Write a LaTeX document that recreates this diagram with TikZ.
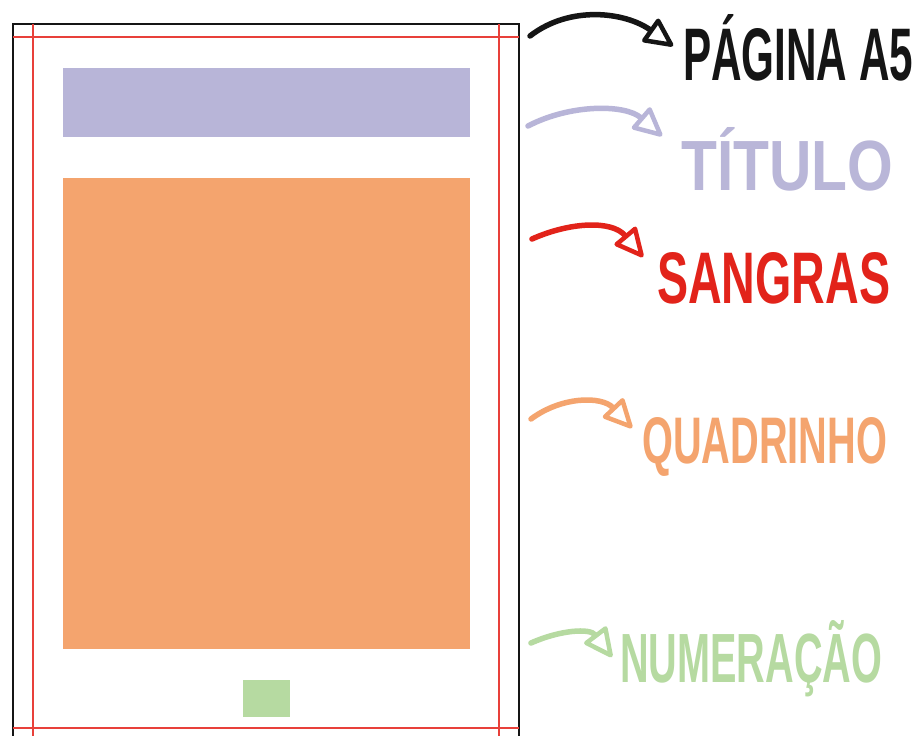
\documentclass[tikz,border=0pt]{standalone}
\usepackage{fontspec}
\newfontfamily\hand{Liberation Sans}
\usetikzlibrary{arrows.meta}
\definecolor{lav}{HTML}{B8B5D8}
\definecolor{lavtxt}{HTML}{B9B6D8}
\definecolor{orng}{HTML}{F4A46E}
\definecolor{grn}{HTML}{B6DAA1}
\definecolor{redl}{HTML}{E8403A}
\definecolor{redt}{HTML}{E2231A}
\definecolor{blk}{HTML}{151515}
\tikzset{
  pageline/.style={draw=blk, line width=1.8pt},
  bleed/.style={draw=redl, line width=1.4pt},
  block/.style={draw=none, inner sep=0pt, outer sep=0pt, anchor=north west},
  label/.style={inner sep=0pt, anchor=base west, font=\hand\bfseries},
  callout/.style={line width=5.5pt, line cap=round, line join=round,
    -{Triangle[open, length=32pt, width=30pt, line width=4.5pt, round]}},
}
\begin{document}
\begin{tikzpicture}[x=1pt, y=-1pt]
\useasboundingbox (0,0) rectangle (919,736);
\fill[white] (0,0) rectangle (919,736);
\clip (0,0) rectangle (919,736);
% page and bleed lines
\draw[pageline] (13,760) -- (13,24) -- (519,24) -- (519,760);
\draw[bleed] (13,37) -- (519,37);
\draw[bleed] (13,728) -- (519,728);
\draw[bleed] (33,24) -- (33,760);
\draw[bleed] (499,24) -- (499,760);
% blocks
\node[block, fill=lav, minimum width=407pt, minimum height=69pt] (title) at (63,68) {};
\node[block, fill=orng, minimum width=407pt, minimum height=471pt] (panel) at (63,178) {};
\node[block, fill=grn, minimum width=47pt, minimum height=37pt] (num) at (243,680) {};
% labels
\node[label, text=blk] (lpag) at (683,80) {\resizebox{230pt}{66pt}{PÁGINA A5}};
\node[label, text=lavtxt] (ltit) at (681,190) {\resizebox{212pt}{63pt}{TÍTULO}};
\node[label, text=redt] (lsan) at (657,303) {\resizebox{233pt}{51pt}{SANGRAS}};
\node[label, text=orng] (lqua) at (642,463) {\resizebox{245pt}{46pt}{QUADRINHO}};
\node[label, text=grn] (lnum) at (620,682) {\resizebox{262pt}{62pt}{NUMERAÇÃO}};
% arrow end points
\coordinate (a1) at (530,36);  \coordinate (b1) at (673,46);
\coordinate (a2) at (528,126); \coordinate (b2) at (662,136);
\coordinate (a3) at (532,239); \coordinate (b3) at (643,257);
\coordinate (a4) at (531,419); \coordinate (b4) at (632,428);
\coordinate (a5) at (531,643); \coordinate (b5) at (612,657);
\draw[callout, blk]  (a1) .. controls (570,5) and (625,12) .. (b1);
\draw[callout, lav]  (a2) .. controls (570,104) and (625,104) .. (b2);
\draw[callout, redt] (a3) .. controls (570,222) and (612,220) .. (b3);
\draw[callout, orng] (a4) .. controls (562,396) and (602,396) .. (b4);
\draw[callout, grn]  (a5) .. controls (560,630) and (590,628) .. (b5);
\end{tikzpicture}
\end{document}
